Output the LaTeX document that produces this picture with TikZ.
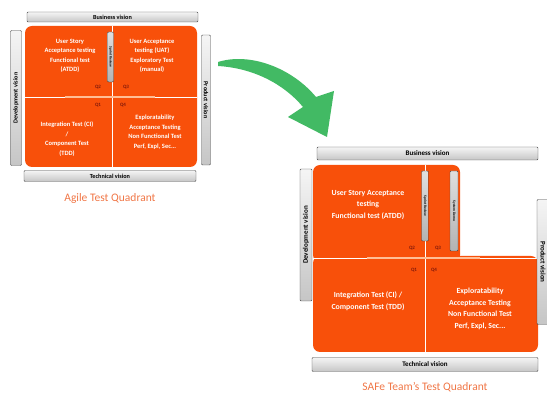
\documentclass[tikz,border=0pt]{standalone}
\usepackage{fontspec}
\setmainfont{Carlito}
\definecolor{qorange}{RGB}{248,80,10}
\definecolor{qgreen}{RGB}{66,186,100}
\definecolor{qcap}{RGB}{240,118,70}
\definecolor{qdark}{RGB}{130,25,10}
\definecolor{qline}{RGB}{255,190,150}
\begin{document}
\begin{tikzpicture}[x=1pt,y=-1pt,
  vbar/.style={draw=gray!55!black, line width=0.45pt, rounded corners=1pt, top color=gray!8, bottom color=gray!45, inner sep=0pt, text=black, font=\bfseries\fontsize{6.2}{6.2}\selectfont},
  vbarr/.style={vbar, font=\bfseries\fontsize{7}{7}\selectfont},
  ibar/.style={vbar, top color=gray!25, bottom color=gray!60, font=\bfseries\fontsize{3.6}{3.6}\selectfont},
  quad/.style={fill=qorange, rounded corners=7pt},
  qt/.style={text=white, align=center, font=\bfseries\fontsize{6.5}{9.5}\selectfont, inner sep=0pt},
  qtr/.style={qt, font=\bfseries\fontsize{7.8}{11.5}\selectfont},
  ql/.style={text=qdark, font=\bfseries\fontsize{5}{5}\selectfont, inner sep=0pt},
  captxt/.style={text=qcap, font=\fontsize{11.5}{11.5}\selectfont, inner sep=0pt}]
\useasboundingbox (0,0) rectangle (547,395);

% ---------- Agile test quadrant (left) ----------
\fill[quad] (25,26) rectangle (197,167);
\draw[white, line width=0.6pt] (112,26) -- (112,167);
\draw[white, line width=0.6pt] (25,97) -- (197,97);
\draw[qline, line width=2.4pt] (65,97) -- (155,97);

\node[vbar, minimum width=171pt, minimum height=10pt] (lbiz) at (112.5,17) {Business vision};
\node[vbar, minimum width=135pt, minimum height=11pt, rotate=90] (ldev) at (16,98) {Development vision};
\node[vbar, minimum width=130pt, minimum height=9pt, rotate=-90] (lprod) at (206,100) {Product vision};
\node[vbar, minimum width=172pt, minimum height=11pt] (ltech) at (110,176) {Technical vision};
\node[ibar, minimum width=50pt, minimum height=6pt, rotate=-90] (lrev) at (110.5,57) {Sprint Review};

\node[qt] (lq2t) at (70,56) {User Story\\Acceptance testing\\Functional test\\(ATDD)};
\node[qt] (lq3t) at (152,56) {User Acceptance\\testing (UAT)\\Exploratory Test\\(manual)};
\node[qt] (lq1t) at (67,139) {Integration Test (CI)\\/\\Component Test\\(TDD)};
\node[qt] (lq4t) at (155,132) {Exploratability\\Acceptance Testing\\Non Functional Test\\Perf, Expl, Sec...};

\node[ql] (lq2) at (98,87) {Q2};
\node[ql] (lq3) at (126,87) {Q3};
\node[ql] (lq1) at (98,105) {Q1};
\node[ql] (lq4) at (123,105) {Q4};

\node[captxt] (lcap) at (110,198) {Agile Test Quadrant};

% ---------- green arrow ----------
\fill[qgreen] (218,62) .. controls (250,52) and (292,68) .. (316,97) -- (334,91) -- (327,137) -- (288,117) -- (303,107) .. controls (283,83) and (252,68) .. (218,66) -- cycle;

% ---------- SAFe team's test quadrant (right) ----------
\fill[quad] (313,256) rectangle (538,352);
\fill[quad] (313,165) rectangle (460,262);
\draw[white, line width=0.6pt] (425,165) -- (425,352);
\draw[white, line width=0.6pt] (313,258) -- (538,258);
\draw[qline, line width=2.6pt] (367,258) -- (480,258);

\node[vbarr, minimum width=221pt, minimum height=13pt] (rbiz) at (427.5,153.5) {Business vision};
\node[vbarr, minimum width=132pt, minimum height=12pt, rotate=90] (rdev) at (306,235) {Development vision};
\node[vbarr, minimum width=125pt, minimum height=12pt, rotate=-90] (rprod) at (543,262) {Product vision};
\node[vbarr, minimum width=226pt, minimum height=14pt] (rtech) at (425,364.5) {Technical vision};
\node[ibar, minimum width=70pt, minimum height=7pt, rotate=-90] (rrev) at (425,206) {Sprint Review};
\node[ibar, minimum width=80pt, minimum height=8pt, rotate=-90] (rdemo) at (454,211) {System Demo};

\node[qtr] (rq2t) at (368,205) {User Story Acceptance\\testing\\Functional test (ATDD)};
\node[qtr] (rq1t) at (368,301) {Integration Test (CI) /\\Component Test (TDD)};
\node[qtr] (rq4t) at (480,309) {Exploratability\\Acceptance Testing\\Non Functional Test\\Perf, Expl, Sec...};

\node[ql] (rq2) at (412,248) {Q2};
\node[ql] (rq3) at (438,248) {Q3};
\node[ql] (rq1) at (414,270) {Q1};
\node[ql] (rq4) at (434,270) {Q4};

\node[captxt] (rcap) at (425,387) {SAFe Team's Test Quadrant};
\end{tikzpicture}
\end{document}
